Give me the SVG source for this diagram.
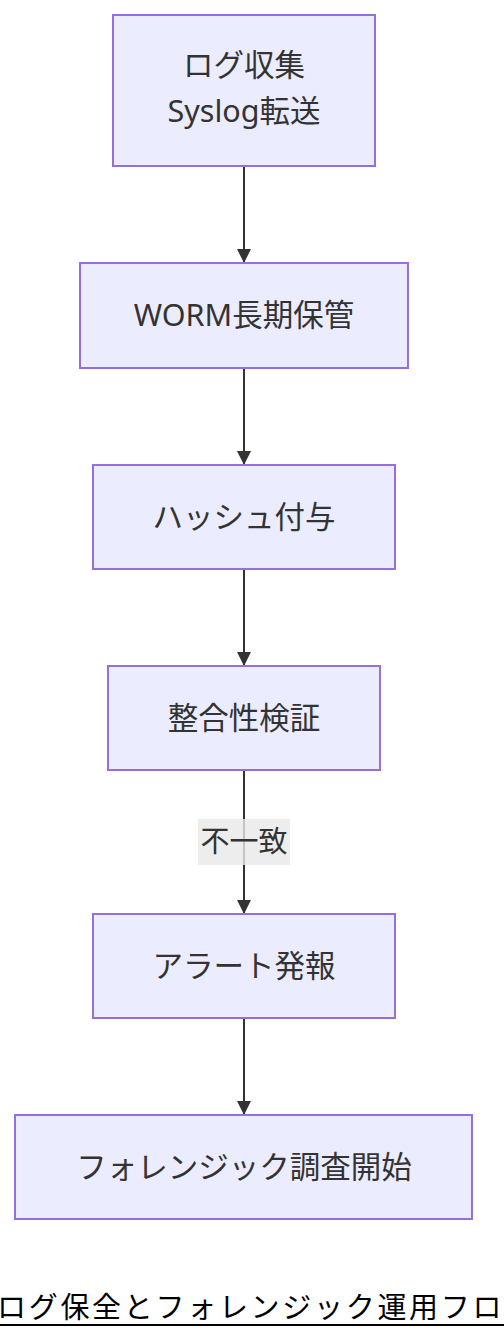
<svg xmlns="http://www.w3.org/2000/svg" width="504" height="1340" viewBox="0 0 504 1340">
<style>
.node rect{fill:#ECECFF;stroke:#9370DB;stroke-width:2}
.node text,.lbl text{font-family:"Noto Sans","Noto Sans CJK JP",sans-serif;font-size:30.5px;fill:#333;text-anchor:middle}
.lbl text{font-size:29px}
.edge{stroke:#333;stroke-width:2;fill:none}
.title{font-family:"Noto Sans CJK JP",sans-serif;font-size:29px;fill:#000;letter-spacing:2.7px}
</style>
<defs>
<marker id="arr" viewBox="0 0 10 10" refX="10" refY="5" markerWidth="7" markerHeight="7" markerUnits="strokeWidth" orient="auto">
<path d="M0,0 L10,5 L0,10 z" fill="#333"/>
</marker>
</defs>
<rect width="504" height="1340" fill="#fff"/>
<g id="connectors">
<line class="edge" x1="244" y1="166" x2="244" y2="263" marker-end="url(#arr)"/>
<line class="edge" x1="244" y1="368" x2="244" y2="465" marker-end="url(#arr)"/>
<line class="edge" x1="244" y1="569" x2="244" y2="666" marker-end="url(#arr)"/>
<line class="edge" x1="244" y1="770" x2="244" y2="914" marker-end="url(#arr)"/>
<line class="edge" x1="244" y1="1018" x2="244" y2="1115" marker-end="url(#arr)"/>
<g class="lbl" id="label-mismatch">
<rect x="198" y="819" width="92" height="46" fill="#e8e8e8" opacity="0.8"/>
<text x="244" y="852">不一致</text>
</g>
</g>
<g id="n1" class="node"><rect x="113" y="15" width="262" height="151"/><text x="244" y="76">ログ収集</text><text x="244" y="122">Syslog転送</text></g>
<g id="n2" class="node"><rect x="80" y="263" width="328" height="105"/><text x="244" y="326">WORM長期保管</text></g>
<g id="n3" class="node"><rect x="93" y="465" width="302" height="104"/><text x="244" y="528">ハッシュ付与</text></g>
<g id="n4" class="node"><rect x="108" y="666" width="272" height="104"/><text x="244" y="729">整合性検証</text></g>
<g id="n5" class="node"><rect x="93" y="914" width="302" height="104"/><text x="244" y="977">アラート発報</text></g>
<g id="n6" class="node"><rect x="15" y="1115" width="457" height="104"/><text x="244" y="1178">フォレンジック調査開始</text></g>
<g id="title">
<text class="title" x="-3" y="1318">ログ保全とフォレンジック運用フロー</text>
<line x1="0" y1="1325" x2="504" y2="1325" stroke="#000" stroke-width="2"/>
</g>
</svg>
